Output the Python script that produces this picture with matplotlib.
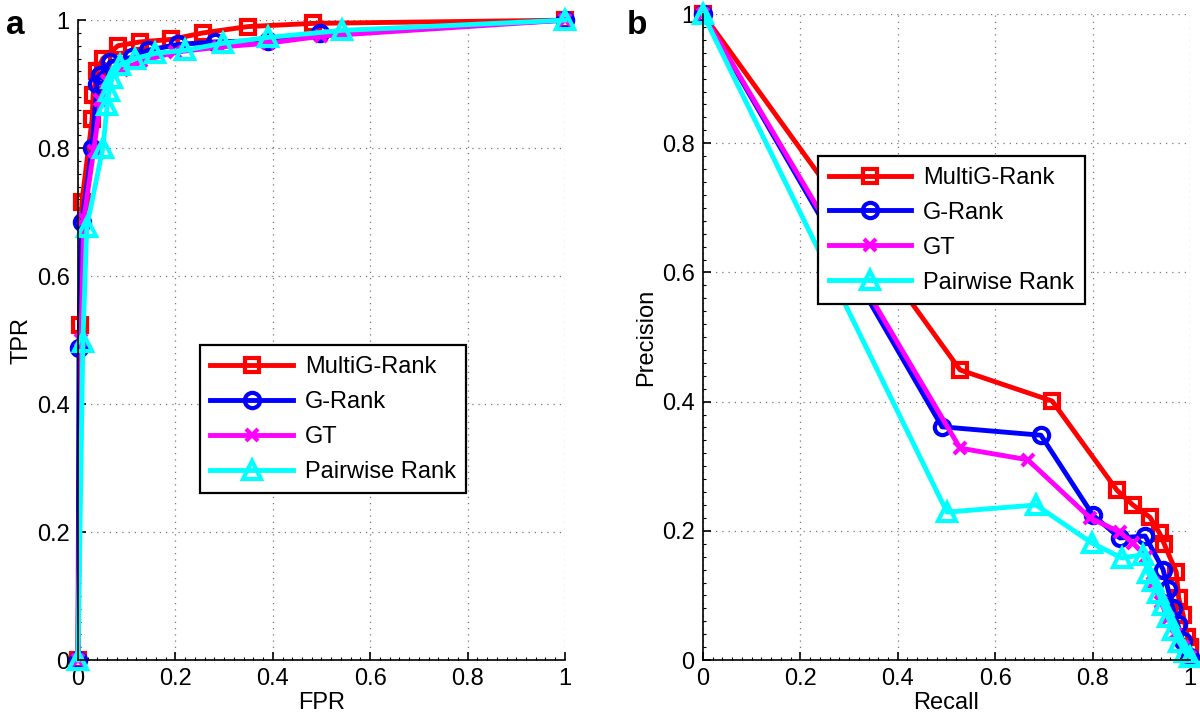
import matplotlib
matplotlib.use("Agg")
import matplotlib.pyplot as plt
from matplotlib.ticker import MultipleLocator

plt.rcParams['font.family'] = ['Liberation Sans', 'DejaVu Sans']

labels = ["MultiG-Rank", "G-Rank", "GT", "Pairwise Rank"]
colors = ["#ff0000", "#0000ff", "#ff00ff", "#00ffff"]
markers = ["s", "o", "x", "^"]

# Panel a: ROC
roc_fpr_multig = [0, 0.004, 0.008, 0.029, 0.031, 0.039, 0.051, 0.082, 0.127, 0.192, 0.256, 0.349, 0.483, 1.0]
roc_tpr_multig = [0, 0.523, 0.716, 0.845, 0.883, 0.920, 0.940, 0.960, 0.966, 0.970, 0.980, 0.990, 0.995, 1.0]
roc_fpr_grank = [0, 0.002, 0.008, 0.029, 0.039, 0.045, 0.066, 0.111, 0.144, 0.205, 0.281, 0.390, 0.497, 1.0]
roc_tpr_grank = [0, 0.488, 0.684, 0.800, 0.900, 0.914, 0.935, 0.942, 0.953, 0.962, 0.966, 0.968, 0.980, 1.0]
roc_fpr_gt = [0, 0.006, 0.012, 0.032, 0.046, 0.060, 0.090, 0.130, 0.200, 0.290, 0.390, 0.500, 1.0]
roc_tpr_gt = [0, 0.500, 0.690, 0.795, 0.875, 0.905, 0.922, 0.936, 0.950, 0.958, 0.964, 0.975, 1.0]
roc_fpr_pair = [0, 0.010, 0.018, 0.051, 0.060, 0.064, 0.070, 0.086, 0.117, 0.158, 0.220, 0.298, 0.390, 0.542, 1.0]
roc_tpr_pair = [0, 0.497, 0.677, 0.800, 0.867, 0.890, 0.910, 0.930, 0.940, 0.948, 0.953, 0.964, 0.973, 0.984, 1.0]

# Panel b: Precision-Recall
pr_rec_multig = [0, 0.528, 0.717, 0.850, 0.883, 0.918, 0.938, 0.947, 0.972, 0.977, 0.986, 0.995, 1.0]
pr_prec_multig = [1, 0.449, 0.401, 0.263, 0.240, 0.221, 0.196, 0.180, 0.136, 0.096, 0.070, 0.036, 0.020]
pr_rec_grank = [0, 0.491, 0.694, 0.801, 0.856, 0.908, 0.945, 0.955, 0.965, 0.975, 0.985, 1.0]
pr_prec_grank = [1, 0.361, 0.348, 0.224, 0.189, 0.192, 0.140, 0.110, 0.080, 0.055, 0.030, 0.005]
pr_rec_gt = [0, 0.528, 0.667, 0.795, 0.856, 0.883, 0.910, 0.925, 0.940, 0.955, 0.970, 0.985, 1.0]
pr_prec_gt = [1, 0.328, 0.310, 0.220, 0.198, 0.181, 0.160, 0.120, 0.090, 0.065, 0.040, 0.020, 0.005]
pr_rec_pair = [0, 0.501, 0.684, 0.799, 0.860, 0.904, 0.914, 0.924, 0.935, 0.945, 0.955, 0.965, 0.978, 0.990, 1.0]
pr_prec_pair = [1, 0.229, 0.240, 0.181, 0.158, 0.163, 0.135, 0.122, 0.104, 0.085, 0.066, 0.047, 0.028, 0.012, 0.005]

ticks = [0, 0.2, 0.4, 0.6, 0.8, 1]
ticklabels = ["0", "0.2", "0.4", "0.6", "0.8", "1"]

fig = plt.figure(figsize=(12, 7.23), dpi=100)
ax1 = fig.add_axes([0.065, 0.0871, 0.4058, 0.885])
ax2 = fig.add_axes([0.5858, 0.0871, 0.4058, 0.8935])

msizes = [10, 11, 8, 13]


def style(ax, xlabel, ylabel):
    ax.set_xlim(0, 1)
    ax.set_ylim(0, 1)
    ax.set_xticks(ticks)
    ax.set_xticklabels(ticklabels)
    ax.set_yticks(ticks)
    ax.set_yticklabels(ticklabels)
    ax.xaxis.set_minor_locator(MultipleLocator(0.02))
    ax.yaxis.set_minor_locator(MultipleLocator(0.02))
    ax.tick_params(which='major', direction='in', length=6, width=1.2, labelsize=17, pad=6)
    ax.tick_params(which='minor', direction='in', length=2.5, width=0.8)
    ax.grid(True, which='major', linestyle=(0, (1, 4)), color='#777777', linewidth=0.9)
    for s in ['top', 'right']:
        ax.spines[s].set_visible(False)
    for s in ['left', 'bottom']:
        ax.spines[s].set_linewidth(1.2)
    ax.set_xlabel(xlabel, fontsize=17, labelpad=1)
    ax.set_ylabel(ylabel, fontsize=17, labelpad=3)
    ax.set_axisbelow(True)


series_a = [(roc_fpr_multig, roc_tpr_multig), (roc_fpr_grank, roc_tpr_grank),
            (roc_fpr_gt, roc_tpr_gt), (roc_fpr_pair, roc_tpr_pair)]
series_b = [(pr_rec_multig, pr_prec_multig), (pr_rec_grank, pr_prec_grank),
            (pr_rec_gt, pr_prec_gt), (pr_rec_pair, pr_prec_pair)]

for ax, series in [(ax1, series_a), (ax2, series_b)]:
    for (x, y), lab, c, m, ms in zip(series, labels, colors, markers, msizes):
        ax.plot(x, y, color=c, marker=m, markersize=ms, markerfacecolor='none',
                markeredgewidth=3, linewidth=3.5, label=lab, clip_on=False)

style(ax1, "FPR", "TPR")
style(ax2, "Recall", "Precision")

legkw = dict(loc='upper left', fontsize=17, frameon=True, fancybox=False,
             edgecolor='black', handlelength=3.5, borderpad=0.45,
             labelspacing=0.55, handletextpad=0.5, borderaxespad=0, framealpha=1)
leg1 = ax1.legend(bbox_to_anchor=(0.250, 0.492), **legkw)
leg1.get_frame().set_linewidth(1.6)
leg2 = ax2.legend(bbox_to_anchor=(0.236, 0.780), **legkw)
leg2.get_frame().set_linewidth(1.6)

fig.text(0.005, 0.965, "a", fontsize=24, fontweight='bold', va='center')
fig.text(0.522, 0.965, "b", fontsize=24, fontweight='bold', va='center')

fig.savefig("out.png", dpi=100)
